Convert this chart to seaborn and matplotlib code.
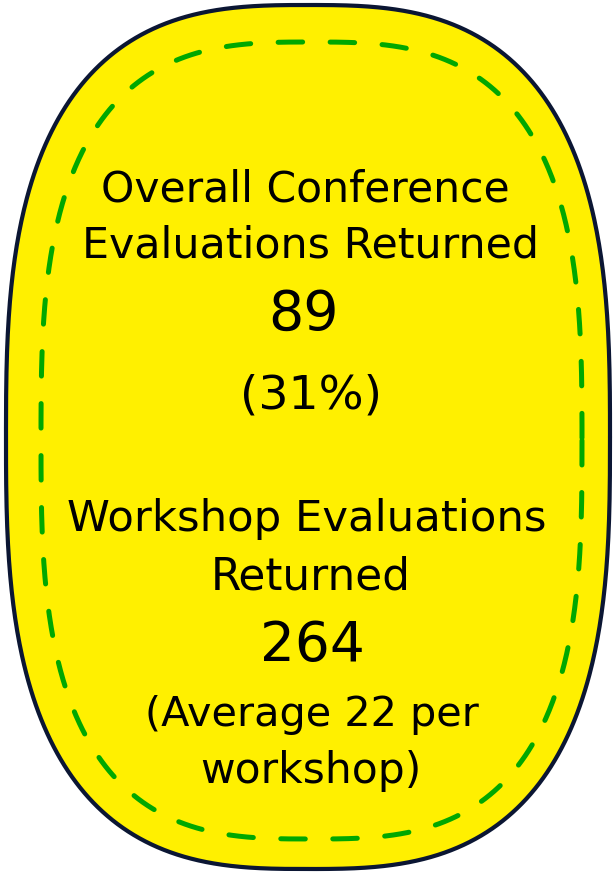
"""Evaluation return summary badge"""

import matplotlib

matplotlib.use("Agg")
import matplotlib.pyplot as plt
import numpy as np
import pandas as pd
import seaborn as sns

# Data
section_titles = [["Overall Conference", "Evaluations Returned"], ["Workshop Evaluations", "Returned"]]
counts = [89, 264]
response_rate = "31%"
avg_per_workshop = 22

YELLOW = "#FFF000"
NAVY = "#0B1633"
GREEN = "#00A800"


def superellipse(cx, cy, a, b, n, num=800):
    t = np.linspace(0, 2 * np.pi, num)
    c, s = np.cos(t), np.sin(t)
    x = cx + a * np.sign(c) * np.abs(c) ** (2 / n)
    y = cy + b * np.sign(s) * np.abs(s) ** (2 / n)
    return pd.DataFrame({"x": x, "y": y, "t": t})


sns.set_theme(style="white")
plt.rcParams["font.family"] = ["DejaVu Sans"]

fig = plt.figure(figsize=(6.14, 8.75), dpi=100)
ax = fig.add_axes([0, 0, 1, 1])
ax.set_xlim(0, 614)
ax.set_ylim(875, 0)
ax.axis("off")

outer = superellipse(308, 437, 302, 432, 2.85)
inner = superellipse(311.5, 440.5, 270.5, 398.5, 2.95)

ax.fill(outer["x"], outer["y"], color=YELLOW, zorder=1)
sns.lineplot(data=outer, x="x", y="y", sort=False, estimator=None, color=NAVY,
             linewidth=3.0, ax=ax, zorder=2)
sns.lineplot(data=inner, x="x", y="y", sort=False, estimator=None, color=GREEN,
             linewidth=3.6, ax=ax, zorder=2)
line = ax.lines[-1]
line.set_dashes((4.9, 5.5))
line.set_dash_capstyle("round")
ax.set_xlabel("")
ax.set_ylabel("")

text_kw = dict(ha="center", va="center", color="black", zorder=3)
ax.text(305, 190, section_titles[0][0], fontsize=30.6, **text_kw)
ax.text(311, 246, section_titles[0][1], fontsize=30.8, **text_kw)
ax.text(304, 315, f"{counts[0]}", fontsize=40, **text_kw)
ax.text(311, 396, f"({response_rate})", fontsize=34, **text_kw)
ax.text(307, 519, section_titles[1][0], fontsize=31.2, **text_kw)
ax.text(311, 577, section_titles[1][1], fontsize=31.5, **text_kw)
ax.text(312, 646, f"{counts[1]}", fontsize=39.5, **text_kw)
ax.text(312, 715, f"(Average {avg_per_workshop} per", fontsize=29.8, **text_kw)
ax.text(311, 771, "workshop)", fontsize=30.5, **text_kw)

plt.savefig("out.png", dpi=100)
plt.close()
